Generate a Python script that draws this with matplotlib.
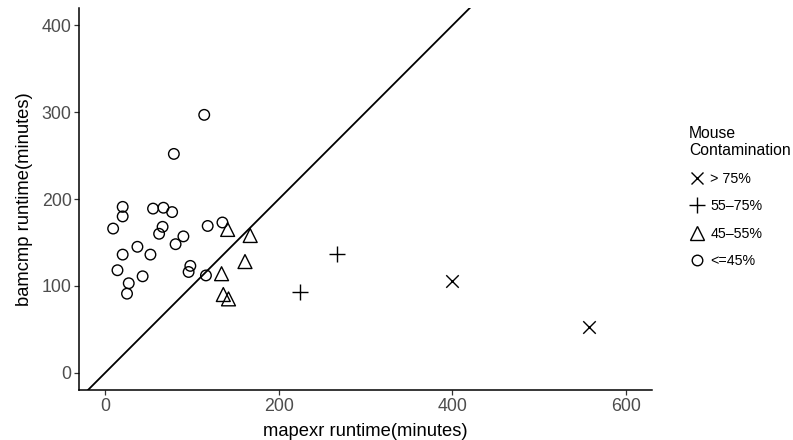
import matplotlib
matplotlib.use("Agg")
import matplotlib.pyplot as plt
from matplotlib.lines import Line2D

plt.rcParams['font.family'] = ['Liberation Sans', 'DejaVu Sans']

# Data (runtime in minutes), grouped by mouse contamination level
circle_x = [114, 79, 20, 20, 9, 55, 67, 77, 66, 62, 118, 135, 90, 81, 37, 20, 52, 14, 43, 27, 25, 98, 96, 116]
circle_y = [297, 252, 191, 180, 166, 189, 190, 185, 168, 160, 169, 173, 157, 148, 145, 136, 136, 118, 111, 103, 91, 123, 116, 112]
tri_x = [141, 167, 161, 134, 136, 142]
tri_y = [165, 158, 128, 114, 90, 85]
plus_x = [267, 224]
plus_y = [137, 93]
cross_x = [400, 557]
cross_y = [106, 53]

fig = plt.figure(figsize=(7.93, 4.40), dpi=100)
ax = fig.add_axes([0.100, 0.1136, 0.722, 0.868])

# y = x reference line
ax.plot([-100, 800], [-100, 800], color='black', lw=1.3, zorder=1)

ax.scatter(circle_x, circle_y, s=7.6**2, marker='o', facecolors='none', edgecolors='black', linewidths=1.0, zorder=2)
ax.scatter(tri_x, tri_y, s=10**2, marker='^', facecolors='none', edgecolors='black', linewidths=1.0, zorder=2)
ax.scatter(plus_x, plus_y, s=12**2, marker='+', color='black', linewidths=1.0, zorder=2)
ax.scatter(cross_x, cross_y, s=9**2, marker='x', color='black', linewidths=1.0, zorder=2)

ax.set_xlim(-30, 630)
ax.set_ylim(-20, 420)
ax.set_xticks([0, 200, 400, 600])
ax.set_yticks([0, 100, 200, 300, 400])

# classic theme look
for side in ['top', 'right']:
    ax.spines[side].set_visible(False)
for side in ['left', 'bottom']:
    ax.spines[side].set_linewidth(1.1)
ax.tick_params(length=3.5, width=0.9, color='#333333', labelcolor='#4D4D4D', labelsize=12.8, pad=2)

ax.set_xlabel('mapexr runtime(minutes)', fontsize=13.2, labelpad=6)
ax.set_ylabel('bamcmp runtime(minutes)', fontsize=13.2, labelpad=6)

# Legend
handles = [
    Line2D([], [], ls='none', marker='x', ms=9, mfc='none', mec='black', mew=1.0),
    Line2D([], [], ls='none', marker='+', ms=12, mfc='none', mec='black', mew=1.0),
    Line2D([], [], ls='none', marker='^', ms=10, mfc='none', mec='black', mew=1.0),
    Line2D([], [], ls='none', marker='o', ms=7.6, mfc='none', mec='black', mew=1.0),
]
labels = ['> 75%', '55\u201375%', '45\u201355%', '<=45%']
leg = fig.legend(handles, labels, title='Mouse\nContamination', loc='upper left',
                 bbox_to_anchor=(0.856, 0.737), frameon=False, fontsize=10.3,
                 title_fontsize=11.3, handlelength=1.2, handletextpad=0.3,
                 labelspacing=0.95, alignment='left', borderpad=0.2)

plt.savefig('out.png', dpi=100)
